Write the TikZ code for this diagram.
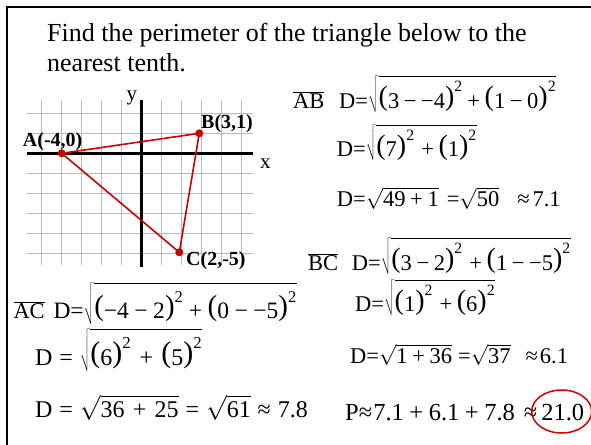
\documentclass[tikz,border=0pt]{standalone}
\usepackage{fontspec}
\setmainfont{Liberation Serif}[NFSSFamily=tnrx]
\usetikzlibrary{shapes.geometric}
\DeclareSymbolFont{tdigits}{TU}{tnrx}{m}{n}
\newcommand\setmymath{%
\Umathcode`0="0 \symtdigits `0
\Umathcode`1="0 \symtdigits `1
\Umathcode`2="0 \symtdigits `2
\Umathcode`3="0 \symtdigits `3
\Umathcode`4="0 \symtdigits `4
\Umathcode`5="0 \symtdigits `5
\Umathcode`6="0 \symtdigits `6
\Umathcode`7="0 \symtdigits `7
\Umathcode`8="0 \symtdigits `8
\Umathcode`9="0 \symtdigits `9
\Umathcode`.="0 \symtdigits `.
\Umathcode`D="0 \symtdigits `D
\Umathcode`P="0 \symtdigits `P
\Umathcode`A="0 \symtdigits `A
\Umathcode`B="0 \symtdigits `B
\Umathcode`C="0 \symtdigits `C
\Umathcode`+="2 \symtdigits `+
\Umathcode`=="3 \symtdigits `=
\Umathcode`-="2 \symtdigits "2212
\Umathchardef\apx="3 \symtdigits "2248
}
\def\pfs{28pt}\def\prs{2.5pt}
\newcommand\lp{\mathopen{\raisebox{\prs}{\fontsize{\pfs}{\pfs}\selectfont(}}}
\newcommand\rp{\mathclose{\raisebox{\prs}{\fontsize{\pfs}{\pfs}\selectfont)}}}
\newcommand\sq[1]{\sqrt{\vrule height 1.35em depth 0.15em width 0pt #1}}
\newcommand\widemed{\medmuskip=6mu\relax}
\definecolor{tred}{RGB}{204,0,0}
\definecolor{gridgray}{RGB}{185,185,185}
\tikzset{
  txt/.style={anchor=base west, inner sep=0pt, font=\fontsize{26}{30}\selectfont},
  frm/.style={anchor=base west, inner sep=0pt, font=\fontsize{22.5}{27}\selectfont\setmymath},
  frmb/.style={anchor=base west, inner sep=0pt, font=\fontsize{24}{28}\selectfont\setmymath\def\pfs{30pt}\def\prs{2.7pt}},
  frmc/.style={anchor=base west, inner sep=0pt, font=\fontsize{23.5}{28}\selectfont\setmymath\def\pfs{29pt}\def\prs{2.6pt}},
  frmp/.style={anchor=base west, inner sep=0pt, font=\fontsize{24.5}{28}\selectfont\setmymath},
  ptlabel/.style={anchor=base west, inner sep=0pt, font=\fontsize{20}{22}\selectfont\bfseries},
  axlabel/.style={anchor=base west, inner sep=0pt, font=\fontsize{21}{24}\selectfont},
  gridline/.style={draw=gridgray, line width=1.5pt},
  axis/.style={draw=black, line width=2.5pt},
  tri/.style={draw=tred, line width=1.6pt},
  dot/.style={circle, fill=tred, inner sep=0pt, minimum size=8pt},
}
\begin{document}
\begin{tikzpicture}[x=1pt,y=-1pt]
\useasboundingbox (0,0) rectangle (591,444);
% frame
\draw[line width=2pt] (7,446) -- (7,7.5) -- (593,7.5);
% title
\node[txt] (t1) at (47,41.7) {Find the perimeter of the triangle below to the};
\node[txt] (t2) at (47,71.7) {nearest tenth.};
% grid
\begin{scope}[shift={(141.7pt,-153.3pt)}, x=20pt, y=20pt]
  \foreach \i in {-5,...,5} { \draw[gridline] (\i,-5.6) -- (\i,2.65); }
  \foreach \j in {-5,...,2} { \draw[gridline] (-5.73,\j) -- (5.57,\j); }
  \draw[axis] (-5.73,0) -- (5.57,0);
  \draw[axis] (0,-5.67) -- (0,2.67);
  \node[dot] (A) at (-4,0) {};
  \node[dot] (B) at (2.88,1) {};
  \node[dot] (C) at (1.88,-4.95) {};
  \draw[tri] (A.center) -- (B.center) -- (C.center) -- cycle;
\end{scope}
\node[axlabel] (ylab) at (126.5,100) {y};
\node[axlabel] (xlab) at (260,168) {x};
\node[ptlabel] (Alab) at (22.7,146.7) {A(-4,0)};
\node[ptlabel] (Blab) at (201,128.3) {B(3,1)};
\node[ptlabel] (Clab) at (186,265) {C(2,-5)};
% AB
\node[frm] (abl) at (293,108.3) {$\overline{AB}$};
\node[frm] (ab1) at (339,108.3) {$D{=}\sq{\lp 3-{-4}\rp^2+\lp 1-0\rp^2}$};
\node[frm] (ab2) at (336.7,156.7) {$D{=}\sq{\lp 7\rp^2\kern2pt+\lp 1\rp^2}$};
\node[frm] (ab3) at (336.7,206.7) {$D{=}\sqrt{49+1}\kern8pt{=}\sqrt{50}\kern18pt{\apx}\kern3pt 7.1$};
% BC
\node[frm] (bcl) at (308,270) {$\overline{BC}$};
\node[frm] (bc1) at (351.7,270) {$D{=}\sq{\lp 3-2\rp^2\kern2pt+\lp 1-{-5}\rp^2}$};
\node[frm] (bc2) at (355,311.7) {$D{=}\sq{\lp 1\rp^2\kern2pt+\lp 6\rp^2}$};
\node[frm] (bc3) at (350,363) {$D{=}\sqrt{1+36}\kern6pt{=}\sqrt{37}\kern15pt{\apx}\kern2pt 6.1$};
% perimeter
\node[frmp] (per) at (345,420) {$P{\apx}\kern1pt 7.1+6.1+7.8\kern9pt{\apx}\kern4pt 21.0$};
\node[ellipse, draw=tred, line width=1.5pt, minimum width=60pt, minimum height=43pt, inner sep=0pt] (circ) at (561.7,411.5) {};
% AC
\node[frm] (acl) at (13.3,318.3) {$\overline{AC}$};
\node[frmc] (ac1) at (53.3,318.3) {$D{=}\sq{\lp{-4}-2\rp^2+\lp 0-{-5}\rp^2}$};
\node[frmb] (ac2) at (35,365) {$\widemed D = \sq{\lp 6\rp^2+\lp 5\rp^2}$};
\node[frmb] (ac3) at (35,417) {$\widemed D = \sqrt{36+25} = \sqrt{61} \apx 7.8$};
\end{tikzpicture}
\end{document}
